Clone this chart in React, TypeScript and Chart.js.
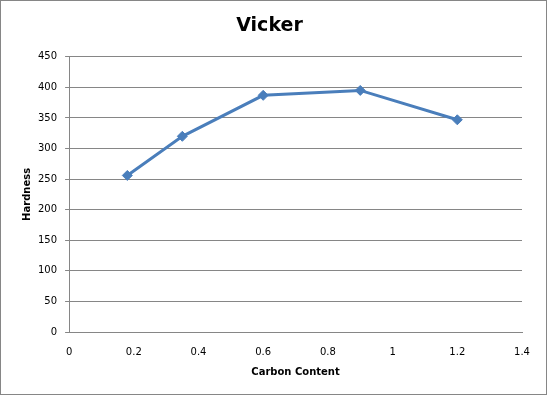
import React, { useEffect, useRef } from "react";
import { Chart, registerables } from "chart.js";

Chart.register(...registerables);

const carbonContent = [0.18, 0.35, 0.6, 0.9, 1.2];
const hardness = [256, 320, 387, 395, 347];
const chartTitle = "Vicker";
const xAxisTitle = "Carbon Content";
const yAxisTitle = "Hardness";

export default function App() {
  const ref = useRef<HTMLCanvasElement | null>(null);
  useEffect(() => {
    document.body.style.margin = "0";
    if (!ref.current) return;
    const chart = new Chart(ref.current, {
      type: "scatter",
      data: {
        datasets: [
          {
            data: carbonContent.map((x, i) => ({ x, y: hardness[i] })),
            showLine: true,
            borderColor: "#4A7EBB",
            backgroundColor: "#4A7EBB",
            borderWidth: 3,
            pointStyle: "rectRot",
            pointRadius: 5,
            pointBorderWidth: 1,
          },
        ],
      },
      options: {
        animation: false,
        responsive: false,
        layout: { padding: { left: 16, right: 24, top: 9, bottom: 22 } },
        plugins: {
          legend: { display: false },
          tooltip: { enabled: false },
          title: {
            display: true,
            text: chartTitle,
            color: "#000",
            font: { family: "DejaVu Sans", size: 19, weight: "bold" },
            padding: { top: 5, bottom: 19 },
          },
        },
        scales: {
          x: {
            type: "linear",
            min: 0,
            max: 1.4,
            ticks: {
              stepSize: 0.2,
              color: "#000",
              font: { family: "DejaVu Sans", size: 10 },
              padding: 14,
              callback: (v: any) => String(Math.round(Number(v) * 10) / 10),
            },
            grid: { display: true, drawOnChartArea: false, drawTicks: false, color: "#868686" },
            border: { display: true, color: "#868686", width: 1 },
            title: {
              display: true,
              text: xAxisTitle,
              color: "#000",
              font: { family: "DejaVu Sans", size: 10, weight: "bold", lineHeight: 0 },
              padding: { top: 0, bottom: 0 },
            },
          },
          y: {
            type: "linear",
            min: 0,
            max: 450,
            ticks: {
              stepSize: 50,
              color: "#000",
              font: { family: "DejaVu Sans", size: 10 },
              padding: 8,
            },
            grid: { display: true, drawTicks: true, tickLength: 4, color: "#868686" },
            border: { display: true, color: "#868686", width: 1 },
            title: {
              display: true,
              text: yAxisTitle,
              color: "#000",
              font: { family: "DejaVu Sans", size: 10, weight: "bold", lineHeight: 0.6 },
              padding: { top: 7, bottom: 0 },
            },
          },
        },
      },
    });
    return () => chart.destroy();
  }, []);
  return (
    <div
      style={{
        position: "absolute",
        left: 0,
        top: 0,
        width: 547,
        height: 395,
        boxSizing: "border-box",
        border: "1px solid #868686",
        background: "#fff",
      }}
    >
      <canvas ref={ref} width={545} height={393} style={{ display: "block" }} />
    </div>
  );
}
